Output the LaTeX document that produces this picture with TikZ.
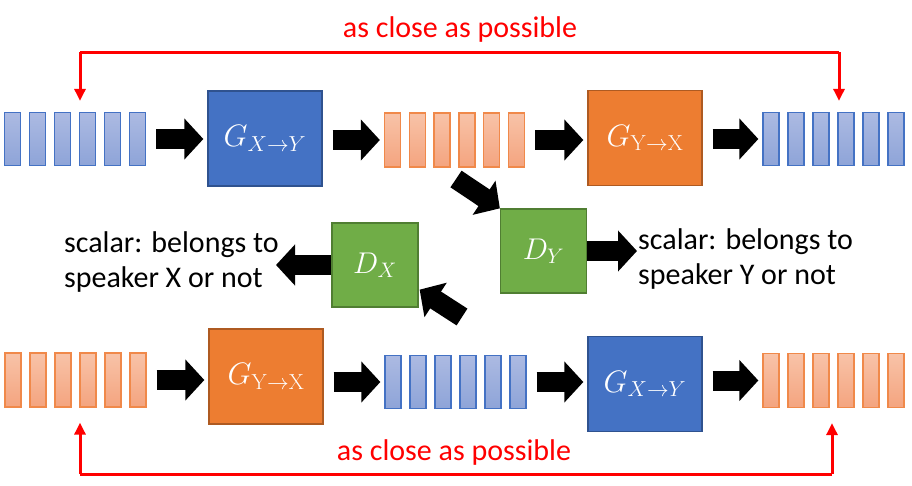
\documentclass[tikz,border=0pt]{standalone}
\usepackage{fix-cm}
\usepackage[no-math]{fontspec}
\setmainfont{Carlito}
\usetikzlibrary{arrows.meta,calc}
\definecolor{gblue}{HTML}{4472C4}
\definecolor{gblueedge}{HTML}{2F528F}
\definecolor{gorange}{HTML}{ED7D31}
\definecolor{gorangeedge}{HTML}{AE5A21}
\definecolor{ggreen}{HTML}{70AD47}
\definecolor{ggreenedge}{HTML}{507E32}
\definecolor{redline}{HTML}{FF0000}
\definecolor{bbartop}{HTML}{ACBAE2}
\definecolor{bbarbot}{HTML}{8EA4D8}
\definecolor{obartop}{HTML}{F8C3A8}
\definecolor{obarbot}{HTML}{F4A47F}
\definecolor{obaredge}{HTML}{F0894A}
\tikzset{
  bbar/.style={draw=gblue, line width=1.3pt, top color=bbartop, bottom color=bbarbot,
    minimum width=16pt, minimum height=53pt, inner sep=0pt},
  obar/.style={draw=obaredge, line width=1.3pt, top color=obartop, bottom color=obarbot,
    minimum width=16pt, minimum height=54pt, inner sep=0pt},
  gbox/.style={minimum width=114pt, minimum height=95pt, inner sep=0pt, line width=1.3pt,
    text=white, font=\fontsize{31}{36}\selectfont},
  dbox/.style={fill=ggreen, draw=ggreenedge, minimum width=86pt, minimum height=84pt, inner sep=0pt,
    line width=1.3pt, text=white, font=\fontsize{30}{34}\selectfont},
  blk/.style={line width=20pt, -{Triangle[length=19pt,width=40pt]}, shorten <=10pt, shorten >=4pt},
  redarr/.style={redline, line width=3pt, -{Triangle[length=12pt,width=11pt]}},
  redtxt/.style={text=redline, font=\fontsize{30}{34}\selectfont},
  sctxt/.style={align=left, inner sep=0pt, font=\fontsize{30}{35}\selectfont}
}
\begin{document}
\begin{tikzpicture}[x=1pt,y=-1pt]
  \useasboundingbox (0,0) rectangle (912,485);
  % top row
  \foreach \i in {0,...,5} \node[bbar] (xin\i) at (12.5+25*\i,139) {};
  \node[gbox, fill=gblue, draw=gblueedge] (gxy) at (265,138.5) {$G_{X\to Y}$};
  \foreach \i in {0,...,5} \node[obar] (yfk\i) at (392.5+24.8*\i,140) {};
  \node[gbox, fill=gorange, draw=gorangeedge] (gyx) at (645,138) {$G_{\mathrm{Y\to X}}$};
  \foreach \i in {0,...,5} \node[bbar] (xrc\i) at (771+25*\i,139) {};
  \draw[blk] (xin5.east) -- (xin5.east -| gxy.west);
  \draw[blk] (gxy.east |- yfk0.west) -- (yfk0.west);
  \draw[blk] (yfk5.east) -- (yfk5.east -| gyx.west);
  \draw[blk] (gyx.east |- xrc0.west) -- (xrc0.west);
  % bottom row
  \foreach \i in {0,...,5} \node[obar] (yin\i) at (13+25*\i,380) {};
  \node[gbox, fill=gorange, draw=gorangeedge] (gyx2) at (266,376.5) {$G_{\mathrm{Y\to X}}$};
  \foreach \i in {0,...,5} \node[bbar] (xfk\i) at (393+25*\i,382) {};
  \node[gbox, fill=gblue, draw=gblueedge] (gxy2) at (645,384) {$G_{X\to Y}$};
  \foreach \i in {0,...,5} \node[obar] (yrc\i) at (771+25*\i,380.5) {};
  \draw[blk] (yin5.east) -- (yin5.east -| gyx2.west);
  \draw[blk] (gyx2.east |- xfk0.west) -- (xfk0.west);
  \draw[blk] (xfk5.east) -- (xfk5.east -| gxy2.west);
  \draw[blk] (gxy2.east |- yrc0.west) -- (yrc0.west);
  % discriminators
  \node[dbox] (dy) at (543.5,251) {$D_Y$};
  \node[dbox] (dx) at (375,265) {$D_X$};
  \node[sctxt, anchor=west] (sy) at (638,259) {scalar: belongs to\\speaker Y or not};
  \node[sctxt, anchor=east] (sx) at (279,262) {scalar: belongs to\\speaker X or not};
  \coordinate (dyin) at (456,179);
  \coordinate (dxin) at (462,317);
  \draw[blk, shorten <=0pt, shorten >=0pt] (dyin) -- (dy.north west);
  \draw[blk, shorten <=0pt, shorten >=0pt] (dxin) -- ($(dx.south east)+(1,-18)$);
  \draw[blk, shorten <=0pt, shorten >=1pt] (dy.east) -- (dy.east -| sy.west);
  \draw[blk, shorten <=0pt, shorten >=-3pt] (dx.west) -- (dx.west -| sx.east);
  % as close as possible
  \coordinate (tl) at (80,52);
  \coordinate (tr) at (839,52);
  \draw[redline, line width=3pt] (tl) -- (tr);
  \draw[redarr] (tl) -- ([yshift=11pt]tl |- xin3.north);
  \draw[redarr] (tr) -- ([yshift=11pt]tr |- xrc3.north);
  \node[redtxt] (tt) at (460,29) {as close as possible};
  \coordinate (bl) at (80,474);
  \coordinate (br) at (832,474);
  \draw[redline, line width=3pt] (bl) -- (br);
  \draw[redarr] (bl) -- ([yshift=-15pt]bl |- yin3.south);
  \draw[redarr] (br) -- ([yshift=-15pt]br |- yrc3.south);
  \node[redtxt] (bt) at (454,452) {as close as possible};
\end{tikzpicture}
\end{document}
